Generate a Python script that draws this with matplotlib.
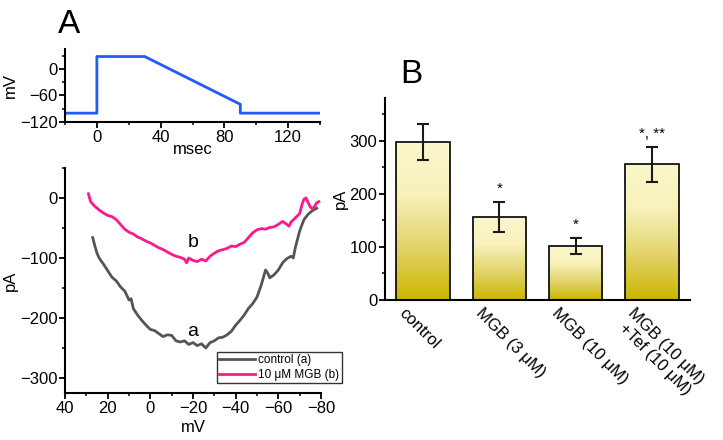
import matplotlib
matplotlib.use("Agg")
import matplotlib.pyplot as plt
import matplotlib.transforms as mtrans
import numpy as np
from matplotlib.ticker import MultipleLocator
from matplotlib.colors import LinearSegmentedColormap

plt.rcParams["font.family"] = ["Liberation Sans", "DejaVu Sans"]

# voltage protocol (msec, mV)
proto_t = [-20, 0, 0, 30, 90, 90, 140]
proto_v = [-100, -100, 28, 28, -80, -100, -100]

# I-V traces (mV, pA)
ctrl_v = [27, 26, 25, 24, 22, 20, 18, 16, 14, 12, 10, 9, 8, 6, 4, 2, 0, -2, -4, -6,
          -8, -10, -12, -14, -16, -18, -20, -22, -24, -26, -28, -30, -32, -34, -36,
          -38, -40, -42, -44, -46, -48, -50, -52, -54, -55, -56, -58, -60, -62, -64,
          -66, -67, -68, -70, -72, -74, -76, -78]
ctrl_i = [-66, -80, -92, -100, -110, -121, -132, -138, -148, -155, -170, -168, -184,
          -195, -204, -212, -219, -221, -226, -231, -228, -229, -238, -240, -238, -244,
          -241, -246, -243, -250, -241, -238, -233, -232, -228, -222, -212, -204, -195,
          -184, -176, -165, -145, -120, -125, -133, -128, -120, -108, -101, -97, -100,
          -82, -55, -36, -27, -21, -17]

mgb_v = [29, 28.5, 28, 27, 26, 24, 22, 20, 18, 16, 14, 12, 10, 8, 6, 4, 2, 0, -2, -4,
         -6, -8, -10, -12, -14, -16, -17, -18, -20, -22, -24, -26, -28, -30, -32, -34,
         -36, -38, -40, -42, -44, -46, -48, -50, -52, -54, -56, -58, -60, -62, -64, -65,
         -66, -68, -70, -71, -72, -73, -74, -75, -76, -77, -78, -79]
mgb_i = [7, 0, -6, -10, -14, -20, -25, -29, -31, -36, -44, -52, -57, -60, -65, -68,
         -72, -75, -79, -83, -86, -90, -94, -97, -99, -102, -108, -100, -104, -106,
         -102, -105, -97, -92, -88, -86, -84, -80, -81, -77, -74, -66, -58, -53, -51,
         -52, -49, -48, -44, -39, -44, -47, -40, -33, -26, -12, -2, 0, -8, -15, -18,
         -14, -8, -6]

# bar summary
bar_labels = ["control", "MGB (3 μM)", "MGB (10 μM)", "MGB (10 μM)\n +Tef (10 μM)"]
bar_means = [298, 156, 102, 255]
bar_errs = [34, 28, 15, 33]
bar_marks = ["", "*", "*", "*, **"]

W, H = 723, 440
fig = plt.figure(figsize=(W / 100, H / 100), dpi=100)
fig.patch.set_facecolor("white")

FS = 12


def style(ax):
    for s in ["top", "right"]:
        ax.spines[s].set_visible(False)
    for s in ["left", "bottom"]:
        ax.spines[s].set_linewidth(1.5)
    ax.tick_params(which="major", direction="out", length=4, width=1.3,
                   labelsize=FS, pad=1.5)
    ax.tick_params(which="minor", direction="out", length=2.5, width=1.1)


# protocol panel
ax1 = fig.add_axes([65 / W, 1 - 122 / H, 255 / W, 73 / H])
ax1.plot(proto_t, proto_v, color="#1f5bff", lw=2)
ax1.set_xlim(-20, 140)
ax1.set_ylim(-120, 45)
ax1.set_xticks([0, 40, 80, 120])
ax1.xaxis.set_minor_locator(MultipleLocator(20))
ax1.set_yticks([0, -60, -120])
ax1.yaxis.set_minor_locator(MultipleLocator(30))
ax1.set_xlabel("msec", fontsize=FS, labelpad=-2)
ax1.set_ylabel("mV", fontsize=FS, labelpad=1)
style(ax1)

# I-V panel
ax2 = fig.add_axes([65 / W, 1 - 393 / H, 256 / W, 225 / H])
ax2.plot(ctrl_v, ctrl_i, color="#555555", lw=2, label="control (a)")
ax2.plot(mgb_v, mgb_i, color="#ff1a8c", lw=2, label="10 μM MGB (b)")
ax2.set_xlim(40, -80)
ax2.set_ylim(-325, 50)
ax2.set_xticks([40, 20, 0, -20, -40, -60, -80])
ax2.xaxis.set_minor_locator(MultipleLocator(10))
ax2.set_yticks([0, -100, -200, -300])
ax2.yaxis.set_minor_locator(MultipleLocator(50))
ax2.set_xlabel("mV", fontsize=FS, labelpad=3)
ax2.set_ylabel("pA", fontsize=FS, labelpad=1)
ax2.text(-20, -74, "b", fontsize=14, ha="center", va="center")
ax2.text(-20, -222, "a", fontsize=14, ha="center", va="center")
style(ax2)
leg = ax2.legend(loc="upper left", bbox_to_anchor=(217 / W, 1 - 352 / H),
                 bbox_transform=fig.transFigure, fontsize=8.5, frameon=True,
                 fancybox=False, handlelength=3.0, handletextpad=0.3,
                 borderpad=0.2, labelspacing=0.2, borderaxespad=0)
leg.get_frame().set_edgecolor("black")
leg.get_frame().set_linewidth(1.0)

# bar panel
ax3 = fig.add_axes([385 / W, 1 - 300 / H, 305 / W, 202 / H])
x = np.arange(1, len(bar_means) + 1)
bars = ax3.bar(x, bar_means, width=0.7, facecolor="none", edgecolor="black",
               linewidth=1.2, zorder=3)
cmap = LinearSegmentedColormap.from_list("yel", ["#ccb600", "#e2d36a", "#f8f1bb", "#fbf7cc"])
grad = np.linspace(0, 1, 256).reshape(-1, 1)
for b in bars:
    x0, y0 = b.get_x(), b.get_y()
    im = ax3.imshow(grad, cmap=cmap, aspect="auto", origin="lower",
                    extent=[x0, x0 + b.get_width(), y0, y0 + b.get_height()], zorder=2)
    im.set_clip_path(b)
ax3.errorbar(x, bar_means, yerr=bar_errs, fmt="none", ecolor="#1a1a1a",
             elinewidth=1.5, capsize=4, capthick=1.5, zorder=4)
for xi, m, e, s in zip(x, bar_means, bar_errs, bar_marks):
    if s:
        ax3.text(xi, m + e + 12, s, ha="center", va="bottom", fontsize=11)
ax3.set_xlim(0.5, 4.5)
ax3.set_ylim(0, 380)
ax3.set_yticks([0, 100, 200, 300])
ax3.yaxis.set_minor_locator(MultipleLocator(50))
ax3.set_xticks(x)
ax3.set_xticklabels(bar_labels, rotation=-45, ha="left", va="top",
                    rotation_mode="anchor", fontsize=13, linespacing=1.15)
ax3.set_ylabel("pA", fontsize=FS, labelpad=1)
style(ax3)
ax3.tick_params(axis="x", which="both", length=0, pad=4)
off = mtrans.ScaledTranslation(-16 / 100, 0, fig.dpi_scale_trans)
for lab in ax3.get_xticklabels():
    lab.set_transform(lab.get_transform() + off)

fig.text(58 / W, 1 - 33 / H, "A", fontsize=24, ha="left", va="baseline")
fig.text(400 / W, 1 - 83 / H, "B", fontsize=24, ha="left", va="baseline")

fig.savefig("out.png", dpi=100, facecolor="white")
